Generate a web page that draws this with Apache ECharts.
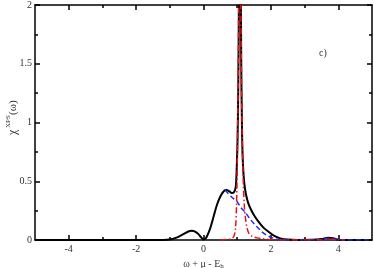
<!DOCTYPE html>
<html>
<head>
<meta charset="utf-8">
<script src="https://cdn.jsdelivr.net/npm/echarts@6/dist/echarts.min.js"></script>
<style>html,body{margin:0;padding:0;background:#fff}#c{width:374px;height:268px}</style>
</head>
<body>
<div id="c"></div>
<script>
// Data
var totalX = [-5,-3,-1.2,-1.0,-0.8,-0.6,-0.45,-0.35,-0.25,-0.15,-0.08,0,0.05,0.1,0.2,0.3,0.4,0.5,0.6,0.68,0.76,0.84,0.9,0.95,0.97,0.99,1.01,1.03,1.05,1.07,1.08,1.09,1.10,1.12,1.14,1.16,1.19,1.22,1.26,1.32,1.39,1.5,1.63,1.78,1.93,2.1,2.28,2.5,2.8,3.2,3.5,3.7,3.85,4.0,4.2,5];
var totalY = [0,0,0.001,0.005,0.02,0.05,0.072,0.078,0.072,0.05,0.025,0.005,0.01,0.03,0.1,0.2,0.3,0.37,0.415,0.425,0.415,0.40,0.405,0.44,0.5,0.65,0.85,1.25,2.0,3.5,4.0,3.5,2.6,1.5,1.0,0.72,0.55,0.46,0.39,0.32,0.27,0.21,0.156,0.105,0.07,0.035,0.014,0.004,0.001,0.002,0.008,0.02,0.015,0.002,0,0];
var boundX = [0.5,0.6,0.8,0.9,0.95,0.98,1.0,1.02,1.04,1.06,1.075,1.09,1.11,1.13,1.15,1.18,1.21,1.24,1.28,1.34,1.45,1.6,1.73,1.9,2.1,2.3,3.5,3.7,3.9,4.2];
var boundY = [0,0.003,0.01,0.03,0.1,0.3,0.6,1.1,1.8,2.8,3.3,2.9,2.0,1.3,0.85,0.5,0.3,0.2,0.12,0.06,0.03,0.018,0.012,0.006,0.002,0,0,0.008,0.003,0];
var contX = [0.64,0.72,0.8,0.9,0.99,1.1,1.24,1.38,1.53,1.63,1.73,1.88,2.03,2.2,2.4,3.0,3.5,3.7,3.9,4.2,5];
var contY = [0.425,0.40,0.375,0.35,0.33,0.28,0.235,0.18,0.128,0.1,0.07,0.04,0.02,0.005,0,0,0.005,0.015,0.008,0,0];
var xMajorTicks = [-4,-2,0,2,4];
var xMinorTicks = [-3,-1,1,3];

function zip(a, b) { return a.map(function (v, i) { return [v, b[i]]; }); }

var chart = echarts.init(document.getElementById('c'), null, {renderer: 'canvas'});
var serif = 'Liberation Serif, Times New Roman, serif';
var lblColor = '#333';

function xAx(pos, ticks, len, labels, name) {
  return {
    type: 'value', position: pos, min: -5, max: 5,
    axisLine: {show: ticks === xMajorTicks, onZero: false, lineStyle: {color: '#000', width: 1.5}},
    axisTick: {show: true, inside: true, length: len, customValues: ticks, lineStyle: {color: '#000', width: 1.5}},
    axisLabel: {show: labels, customValues: ticks, fontFamily: serif, fontSize: 10, color: lblColor, margin: 4},
    splitLine: {show: false},
    name: name ? '{a|ω + μ - E}{s|h}' : '',
    nameLocation: 'middle', nameGap: 17,
    nameTextStyle: {
      rich: {
        a: {fontFamily: serif, fontSize: 10, color: lblColor, lineHeight: 12},
        s: {fontFamily: serif, fontSize: 7, color: lblColor, verticalAlign: 'bottom', lineHeight: 12, padding: [4, 0, 0, 0]}
      }
    }
  };
}
function yAx(pos, labels) {
  return {
    type: 'value', position: pos, min: 0, max: 2, interval: 0.5,
    axisLine: {show: true, onZero: false, lineStyle: {color: '#000', width: 1.5}},
    axisTick: {show: true, inside: true, length: 5, lineStyle: {color: '#000', width: 1.5}},
    minorTick: {show: true, splitNumber: 2, length: 3, lineStyle: {color: '#000', width: 1.5}},
    axisLabel: {show: labels, fontFamily: serif, fontSize: 10, color: lblColor, margin: 3},
    splitLine: {show: false}
  };
}

chart.setOption({
  animation: false,
  backgroundColor: '#fff',
  grid: {left: 35, right: 2, top: 5, bottom: 28, containLabel: false, outerBoundsMode: 'none'},
  xAxis: [
    xAx('bottom', xMajorTicks, 5, true, true),
    xAx('top', xMajorTicks, 5, false, false),
    xAx('bottom', xMinorTicks, 3, false, false),
    xAx('top', xMinorTicks, 3, false, false)
  ],
  yAxis: [yAx('left', true), yAx('right', false)],
  graphic: [
    {type: 'text', left: 319, top: 48,
     style: {text: 'c)', font: '10px ' + serif, fill: lblColor}},
    {type: 'group', x: 13, y: 118, rotation: Math.PI / 2, children: [
      {type: 'text', x: -17, y: 0, style: {text: 'χ', font: '12px ' + serif, fill: lblColor, align: 'left', verticalAlign: 'middle'}},
      {type: 'text', x: -10, y: -5, style: {text: 'XPS', font: '7px ' + serif, fill: lblColor, align: 'left', verticalAlign: 'middle'}},
      {type: 'text', x: 3, y: 0, style: {text: '(ω)', font: '11px ' + serif, fill: lblColor, align: 'left', verticalAlign: 'middle'}}
    ]}
  ],
  series: [
    {type: 'line', xAxisIndex: 0, yAxisIndex: 0, data: zip(totalX, totalY), showSymbol: false, symbol: 'none', smooth: 0.3, clip: true,
     lineStyle: {color: '#000', width: 2}, z: 2},
    {type: 'line', xAxisIndex: 0, yAxisIndex: 0, data: zip(contX, contY), showSymbol: false, symbol: 'none', smooth: 0.3, clip: true,
     lineStyle: {color: '#1f2fe0', width: 1.5, type: [5, 3]}, z: 3},
    {type: 'line', xAxisIndex: 0, yAxisIndex: 0, data: zip(boundX, boundY), showSymbol: false, symbol: 'none', smooth: 0.3, clip: true,
     lineStyle: {color: '#ee1111', width: 1.5, type: [6, 2.5, 1.5, 2.5]}, z: 4}
  ]
});
</script>
</body>
</html>
